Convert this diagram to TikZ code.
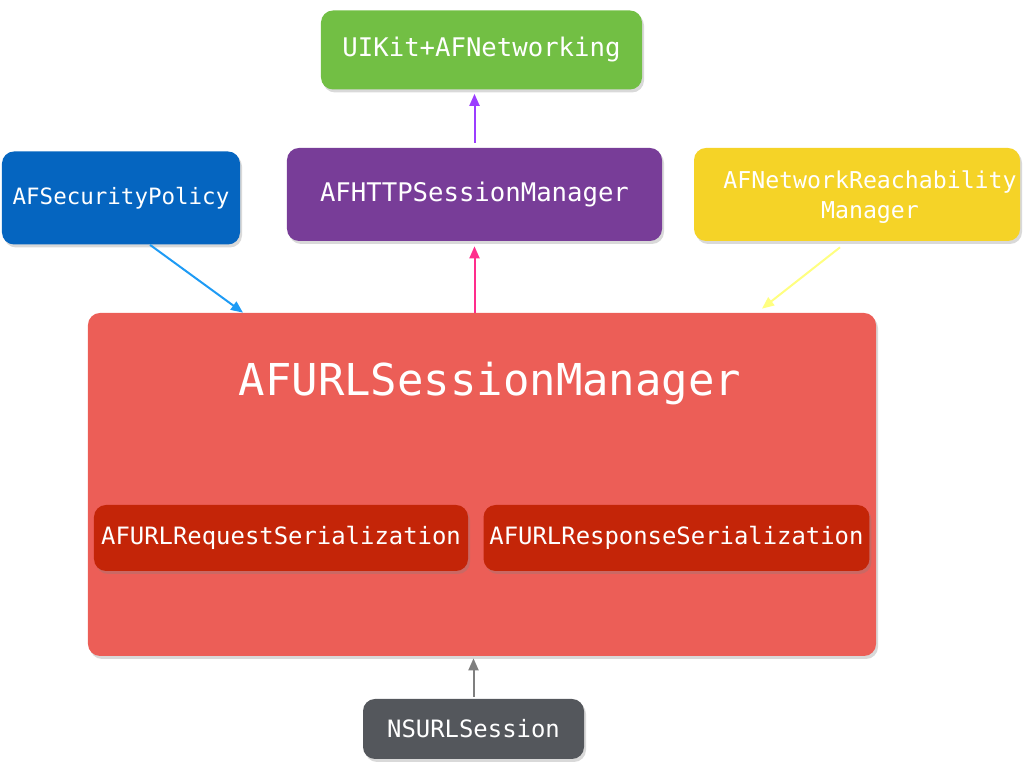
\documentclass[tikz,border=0pt]{standalone}
\usepackage{fontspec}
\setmonofont{DejaVu Sans Mono}
\usetikzlibrary{arrows.meta,shadows}

\definecolor{uigreen}{HTML}{72BF44}
\definecolor{secblue}{HTML}{0565C0}
\definecolor{httppurple}{HTML}{783D98}
\definecolor{reachyellow}{HTML}{F5D327}
\definecolor{corered}{HTML}{EC5E57}
\definecolor{serialred}{HTML}{C42508}
\definecolor{nsgrey}{HTML}{54575C}

\begin{document}
\begin{tikzpicture}[x=0.2mm,y=-0.2mm,
    box/.style={rounded corners=2.4mm,draw=none,text=white,
      font=\ttfamily\fontsize{13.6}{17}\selectfont,align=center,
      drop shadow={opacity=0.3,shadow xshift=0.4mm,shadow yshift=-0.6mm}},
    lbl/.style={text=white,font=\ttfamily\fontsize{13.2}{17}\selectfont,align=center},
    link/.style={line width=0.4mm,-{Triangle[length=2.4mm,width=2mm]}}]
    \useasboundingbox (0,0) rectangle (1024,768);
    \node[box,fill=uigreen,minimum width=64.2mm,minimum height=15.8mm,
      font=\ttfamily\fontsize{14.6}{17}\selectfont] (ui) at (481.5,50) {UIKit+AFNetworking};
    \node[box,fill=secblue,minimum width=47.6mm,minimum height=18.6mm,
      font=\ttfamily\fontsize{12.8}{17}\selectfont] (sec) at (121,198) {AFSecurityPolicy};
    \node[box,fill=httppurple,minimum width=75mm,minimum height=18.6mm,
      font=\ttfamily\fontsize{14.6}{17}\selectfont] (http) at (474.5,194.5) {AFHTTPSessionManager};
    \node[box,fill=reachyellow,minimum width=65.2mm,minimum height=18.6mm] (reach) at (857,194.5) {};
    \node[lbl] (reachtxt) at ([xshift=2.6mm,yshift=-0.5mm]reach.center) {AFNetworkReachability\\Manager};

    \node[box,fill=corered,minimum width=157.6mm,minimum height=68.6mm] (core) at (482,484.5) {};
    \node[lbl,font=\ttfamily\fontsize{25}{30}\selectfont] (coretitle)
      at ([xshift=1.6mm,yshift=-14.2mm]core.north) {AFURLSessionManager};
    \node[box,fill=serialred,minimum width=74.8mm,minimum height=13.2mm] (req) at (281,538) {AFURLRequestSerialization};
    \node[box,fill=serialred,minimum width=76.6mm,minimum height=13.2mm] (resp) at (676.5,538) {AFURLResponseSerialization};

    \node[box,fill=nsgrey,minimum width=44.2mm,minimum height=12mm] (ns) at (473.5,729) {NSURLSession};

    % connectors
    \draw[link,color={rgb,255:red,155;green,61;blue,255},shorten <=1mm,shorten >=0.8mm] (http.north) -- (http.north |- ui.south);
    \draw[link,color={rgb,255:red,255;green,45;blue,140},shorten >=1mm] (http.south |- core.north) -- (http.south);
    \draw[link,color={rgb,255:red,30;green,155;blue,245}] ([xshift=5.8mm]sec.south) -- ([xshift=-47.8mm]core.north);
    \draw[link,color={rgb,255:red,255;green,255;blue,128}] ([xshift=-3.4mm,yshift=-1.2mm]reach.south) -- ([xshift=56mm,yshift=0.8mm]core.north);
    \draw[link,color={rgb,255:red,127;green,127;blue,127},shorten <=0.4mm,shorten >=0.4mm] (ns.north) -- (ns.north |- core.south);
\end{tikzpicture}
\end{document}
